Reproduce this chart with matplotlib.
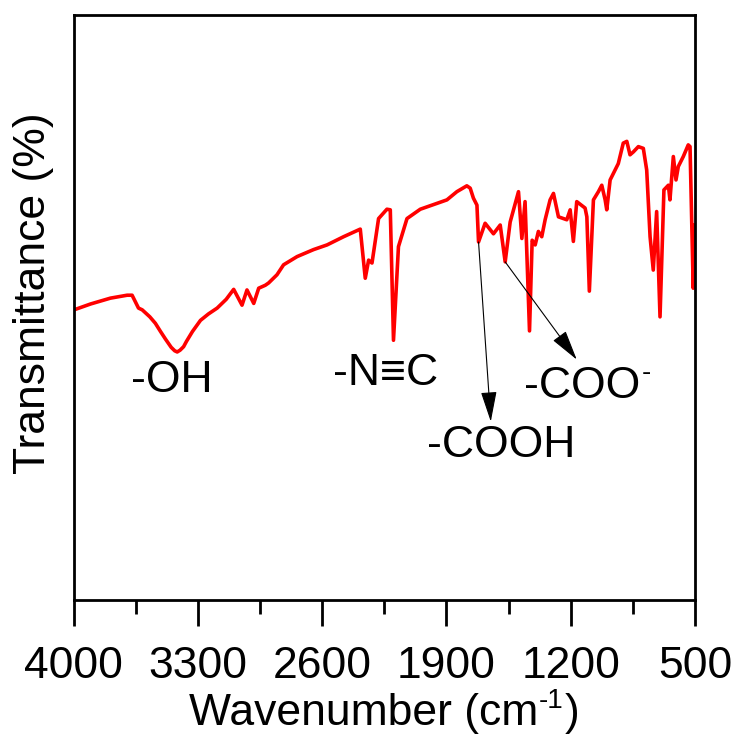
import matplotlib
matplotlib.use("Agg")
import matplotlib.pyplot as plt
from matplotlib.ticker import FixedLocator

plt.rcParams['font.family'] = ['Liberation Sans', 'DejaVu Sans']

wavenumber = [3997, 3904, 3792, 3698, 3670, 3634, 3613, 3570, 3539, 3510, 3482, 3450,
              3430, 3416, 3400, 3380, 3364, 3330, 3285, 3240,
              3191, 3140, 3098, 3051, 3023, 2985, 2957, 2920, 2901, 2854, 2817, 2741, 2648,
              2572, 2479, 2385, 2357, 2338, 2319, 2282, 2235, 2216, 2198, 2170, 2122,
              2047, 1953, 1897, 1841, 1785, 1766, 1748, 1728, 1719, 1682, 1635, 1597,
              1569, 1541, 1494, 1475, 1457, 1432, 1417, 1400, 1382, 1363, 1344, 1316,
              1297, 1269, 1222, 1203, 1185, 1166, 1119, 1109, 1095, 1072, 1044, 1025,
              1006, 997, 978, 932, 904, 884, 866, 847, 819, 791, 772, 753, 735, 716,
              697, 675, 650, 641, 622, 607, 594, 566, 538, 528, 510, 500]
transmittance = [49.6, 50.6, 51.6, 52.1, 52.1, 49.9, 49.6, 48.4, 47.3, 45.9, 44.6, 43.2,
                 42.6, 42.4, 42.7, 43.3, 44.2, 45.9, 47.8, 48.9,
                 49.9, 51.4, 53.1, 50.4, 53.0, 50.7, 53.3, 53.8, 54.2, 55.6, 57.3, 58.7, 59.9,
                 60.7, 62.1, 63.4, 55.0, 58.1, 57.6, 65.2, 66.8, 66.7, 44.4, 60.4, 65.2,
                 66.8, 67.8, 68.4, 69.8, 70.8, 70.4, 68.7, 67.5, 61.2, 64.4, 62.6, 64.1,
                 57.8, 64.6, 69.8, 61.8, 68.1, 46.0, 61.5, 60.7, 63.0, 62.1, 65.0, 68.4,
                 69.5, 65.5, 65.0, 66.7, 61.3, 68.1, 67.0, 65.5, 52.8, 68.4, 69.8, 70.9,
                 68.4, 66.7, 71.8, 74.6, 78.1, 78.4, 76.1, 76.6, 77.5, 77.2, 73.5, 62.1,
                 56.4, 66.4, 48.4, 70.1, 70.9, 68.4, 75.8, 71.8, 74.1, 75.8, 77.8, 77.5,
                 53.3, 64.1]

xticks = [4000, 3300, 2600, 1900, 1200, 500]
minor_xticks = [3650, 2950, 2250, 1550, 850]

W, H = 737, 738
fig = plt.figure(figsize=(W / 100, H / 100), dpi=100)
ax = fig.add_axes([73.5 / W, (H - 600) / H, 621.5 / W, 585 / H])
ax.plot(wavenumber, transmittance, color='#ff0000', lw=2.6, solid_joinstyle='round')
ax.set_xlim(4000, 500)
ax.set_ylim(0, 100)
ax.set_xticks(xticks)
ax.xaxis.set_minor_locator(FixedLocator(minor_xticks))
ax.set_yticks([])
ax.tick_params(axis='x', which='major', direction='out', length=19, width=2,
               labelsize=32, pad=14)
ax.tick_params(axis='x', which='minor', direction='out', length=10, width=2)
for s in ax.spines.values():
    s.set_linewidth(2)

# x label built from pieces so the superscript uses a plain hyphen
base_y = (H - 725) / H
t1 = fig.text(0, base_y, 'Wavenumber (cm', fontsize=32, va='baseline', ha='left')
t2 = fig.text(0, base_y + 17 / H, '-1', fontsize=20, va='baseline', ha='left')
t3 = fig.text(0, base_y, ')', fontsize=32, va='baseline', ha='left')
fig.canvas.draw()
r = fig.canvas.get_renderer()
w1 = t1.get_window_extent(r).width
w2 = t2.get_window_extent(r).width
w3 = t3.get_window_extent(r).width
total = w1 + w2 + w3 + 2
x0 = 0.5 * (73.5 + 695) - total / 2
t1.set_x(x0 / W)
t2.set_x((x0 + w1 + 1) / W)
t3.set_x((x0 + w1 + w2 + 2) / W)

fig.text(34 / W, (H - 293) / H, 'Transmittance (%)', fontsize=32,
         rotation=90, ha='center', va='center')

ax.text(3445, 35.6, '-OH', fontsize=32, ha='center', va='baseline')
ax.text(2240, 36.75, '-N\u2261C', fontsize=32, ha='center', va='baseline')
ax.text(1590, 24.4, '-COOH', fontsize=32, ha='center', va='baseline')
ax.text(1133, 34.5, '-COO', fontsize=32, ha='center', va='baseline')
ax.text(798, 37.6, '-', fontsize=20, ha='left', va='baseline')

arrow_kw = dict(arrowstyle='-|>,head_length=1.9,head_width=0.5', color='black', lw=0.8,
                shrinkA=0, shrinkB=0)
ax.annotate('', xy=(1650, 30.5), xytext=(1719, 61.2), arrowprops=arrow_kw)
ax.annotate('', xy=(1166, 41.1), xytext=(1569, 57.8), arrowprops=arrow_kw)

fig.savefig('out.png', dpi=100)
